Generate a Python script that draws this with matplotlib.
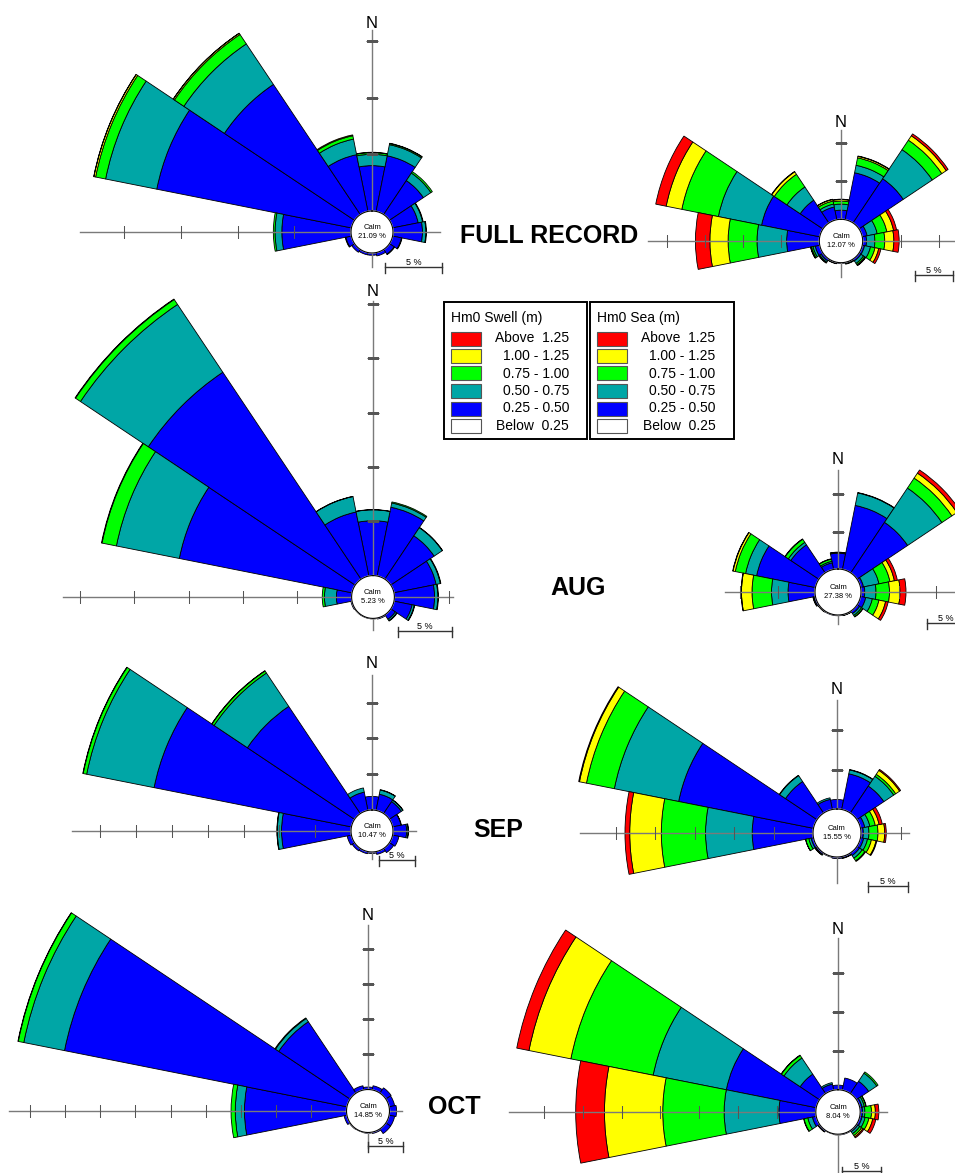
import numpy as np
import matplotlib
matplotlib.use("Agg")
import matplotlib.pyplot as plt
from matplotlib.lines import Line2D
from matplotlib.patches import Rectangle

plt.rcParams['font.family'] = ['Liberation Sans', 'DejaVu Sans']

W, H = 955, 1173

DIRECTIONS = ['N', 'NNE', 'NE', 'ENE', 'E', 'ESE', 'SE', 'SSE',
              'S', 'SSW', 'SW', 'WSW', 'W', 'WNW', 'NW', 'NNW']
CLASS_LABELS = ['Above  1.25', '1.00 - 1.25', '0.75 - 1.00',
                '0.50 - 0.75', '0.25 - 0.50', 'Below  0.25']
CLASS_COLORS = ['#FF0000', '#FFFF00', '#00FF00', '#00A6A6', '#0000FF', '#FFFFFF']
STACK_COLORS = ['#0000FF', '#00A6A6', '#00FF00', '#FFFF00', '#FF0000']

# ---------------- data (% occurrence) : N, NNE, ..., NNW ----------------
# FULL RECORD - swell
full_swell_b = [4.0, 5.0, 3.6, 2.3, 2.6, 0.8, 0.5, 0.3, 0.2, 0.2, 0.3, 0.5, 6.1, 17.5, 13.8, 5.1]
full_swell_t = [1.0, 1.0, 0.8, 0.4, 0.3, 0.05, 0.05, 0, 0, 0, 0, 0.05, 0.6, 4.6, 4.3, 1.4]
full_swell_g = [0.15, 0.1, 0.15, 0.05, 0.05, 0, 0, 0, 0, 0, 0, 0, 0.15, 0.9, 1.0, 0.3]
full_swell_y = [0.03, 0.03, 0, 0, 0, 0, 0, 0, 0, 0, 0, 0, 0, 0.15, 0.12, 0.08]
full_swell_r = [0, 0, 0, 0, 0, 0, 0, 0, 0, 0, 0, 0, 0, 0.02, 0.02, 0]
full_swell_calm = 21.09
# FULL RECORD - sea
full_sea_b = [1.2, 6.3, 7.0, 0.65, 0.5, 0.3, 0.3, 0.15, 0.1, 0.15, 0.3, 0.6, 4.3, 7.8, 3.6, 1.7]
full_sea_t = [0.8, 1.0, 4.6, 1.35, 1.1, 0.8, 0.4, 0.05, 0, 0.05, 0.2, 0.3, 3.9, 5.8, 2.1, 0.4]
full_sea_g = [0.4, 1.0, 1.5, 1.3, 1.3, 0.6, 0.2, 0.05, 0, 0, 0.1, 0.2, 3.8, 4.9, 2.0, 0.4]
full_sea_y = [0.2, 0.2, 0.7, 0.9, 1.2, 0.5, 0.1, 0, 0, 0, 0.05, 0.1, 2.4, 2.1, 0.4, 0.2]
full_sea_r = [0.05, 0.05, 0.3, 0.4, 0.7, 0.3, 0.05, 0, 0, 0, 0, 0.02, 1.9, 1.4, 0.05, 0.05]
full_sea_calm = 12.07
# AUG - swell
aug_swell_b = [5.05, 6.45, 4.8, 3.95, 3.7, 1.7, 0.5, 0.1, 0.05, 0.05, 0.05, 0.1, 1.4, 16.2, 22.9, 6.0]
aug_swell_t = [1.0, 0.4, 0.9, 0.4, 0.3, 0.2, 0.15, 0, 0, 0, 0, 0, 1.1, 5.9, 7.5, 1.45]
aug_swell_g = [0.02, 0.1, 0.03, 0.05, 0.05, 0.05, 0.05, 0, 0, 0, 0, 0, 0.2, 1.35, 0.55, 0.02]
aug_swell_y = [0, 0, 0, 0, 0, 0, 0, 0, 0, 0, 0, 0, 0, 0.05, 0.05, 0]
aug_swell_r = [0, 0, 0, 0, 0, 0, 0, 0, 0, 0, 0, 0, 0, 0, 0, 0]
aug_swell_calm = 5.23
# AUG - sea
aug_sea_b = [2.1, 8.7, 8.1, 0.4, 0.5, 0.7, 0.4, 0.1, 0.1, 0.1, 0.1, 0.2, 3.6, 8.0, 4.5, 0.9]
aug_sea_t = [0.1, 1.7, 5.5, 2.1, 1.5, 0.9, 0.3, 0.05, 0, 0, 0.05, 0.1, 2.2, 1.5, 0.4, 0.2]
aug_sea_g = [0.05, 0.05, 1.6, 1.5, 1.8, 0.9, 0.2, 0, 0, 0, 0, 0.05, 2.6, 1.4, 0.5, 0.3]
aug_sea_y = [0, 0, 0.8, 0.6, 1.4, 0.9, 0.05, 0, 0, 0, 0, 0, 1.4, 0.3, 0.05, 0.05]
aug_sea_r = [0, 0, 0.5, 0.4, 0.8, 0.35, 0, 0, 0, 0, 0, 0, 0.05, 0.05, 0, 0]
aug_sea_calm = 27.38
# SEP - swell
sep_swell_b = [1.9, 2.3, 2.0, 1.2, 1.9, 0.9, 0.7, 0.4, 0.2, 0.3, 0.4, 0.6, 9.7, 28.1, 18.0, 2.6]
sep_swell_t = [0, 0.6, 0.25, 0.05, 0.2, 0, 0, 0, 0, 0, 0, 0, 0.6, 9.6, 5.6, 0.6]
sep_swell_g = [0, 0.05, 0.05, 0, 0.05, 0, 0, 0, 0, 0, 0, 0, 0.05, 0.5, 0.35, 0]
sep_swell_y = [0, 0, 0, 0, 0, 0, 0, 0, 0, 0, 0, 0, 0, 0.05, 0.05, 0]
sep_swell_r = [0, 0, 0, 0, 0, 0, 0, 0, 0, 0, 0, 0, 0, 0, 0, 0]
sep_swell_calm = 10.47
# SEP - sea
sep_sea_b = [1.2, 4.6, 4.1, 0.55, 0.3, 0.4, 0.4, 0.2, 0.2, 0.1, 0.2, 0.3, 7.7, 17.4, 4.8, 1.3]
sep_sea_t = [0, 0.5, 1.5, 0.65, 0.7, 0.5, 0.4, 0.05, 0, 0, 0.1, 0.3, 5.9, 8.3, 0.9, 0.2]
sep_sea_g = [0, 0.05, 0.3, 0.7, 1.15, 0.5, 0.4, 0, 0, 0, 0.05, 0.4, 5.6, 3.6, 0.05, 0]
sep_sea_y = [0, 0, 0.6, 0.5, 0.85, 0.6, 0.1, 0, 0, 0, 0, 0.02, 4.0, 0.9, 0, 0]
sep_sea_r = [0, 0, 0.15, 0.4, 0.2, 0.1, 0, 0, 0, 0, 0, 0, 0.6, 0.1, 0, 0]
sep_sea_calm = 15.55
# OCT - swell
oct_swell_b = [0.35, 0.6, 0.9, 0.8, 1.0, 0.8, 0.8, 0.2, 0.1, 0.05, 0.1, 0.4, 14.5, 40.9, 12.2, 0.6]
oct_swell_t = [0, 0, 0, 0, 0, 0, 0, 0, 0, 0, 0, 0, 1.3, 5.9, 0.55, 0]
oct_swell_g = [0, 0, 0, 0, 0, 0, 0, 0, 0, 0, 0, 0, 0.6, 0.8, 0.1, 0]
oct_swell_y = [0, 0, 0, 0, 0, 0, 0, 0, 0, 0, 0, 0, 0, 0.05, 0, 0]
oct_swell_r = [0, 0, 0, 0, 0, 0, 0, 0, 0, 0, 0, 0, 0, 0, 0, 0]
oct_swell_calm = 14.85
# OCT - sea
oct_sea_b = [0.6, 1.6, 1.9, 0.3, 0.3, 0.3, 0.2, 0.1, 0.1, 0.05, 0.2, 0.5, 4.75, 11.8, 3.0, 0.8]
oct_sea_t = [0, 0, 1.25, 0.3, 0.3, 0.4, 0.3, 0, 0, 0, 0.05, 0.6, 7.05, 9.6, 2.5, 0.2]
oct_sea_g = [0, 0, 0.2, 0.2, 0.85, 0.5, 0.3, 0, 0, 0, 0, 0.5, 7.9, 10.8, 0.4, 0]
oct_sea_y = [0, 0, 0, 0.05, 0.5, 0.5, 0.2, 0, 0, 0, 0, 0.05, 7.5, 5.5, 0.05, 0]
oct_sea_r = [0, 0, 0, 0, 0.45, 0.4, 0.15, 0, 0, 0, 0, 0, 3.7, 1.6, 0, 0]
oct_sea_calm = 8.04

TITLES = ['FULL RECORD', 'AUG', 'SEP', 'OCT']

fig = plt.figure(figsize=(W / 100, H / 100), dpi=100)
fig.patch.set_facecolor('white')


def fx(x):
    return x / W


def fy(y):
    return 1 - y / H


AXC = '#7a7a7a'


def rose(cx, cy, s, rc, stacks, calm, ext, nticks, ny, bar_xy):
    """cx,cy centre px; s px per 1 %; rc calm radius px;
    ext = (left, right, up, down) axis lengths px; nticks = tick counts"""
    R = 430
    ax = fig.add_axes([fx(cx - R), fy(cy + R), 2 * R / W, 2 * R / H],
                      projection='polar')
    ax.set_theta_zero_location('N')
    ax.set_theta_direction(-1)
    ax.set_axis_off()
    ax.set_ylim(0, R / s)
    off = rc / s
    theta = np.deg2rad(np.arange(16) * 22.5)
    width = np.deg2rad(22.5)
    bottom = np.full(16, off)
    for vals, col in zip(stacks, STACK_COLORS):
        v = np.asarray(vals, dtype=float)
        m = v > 0
        ax.bar(theta[m], v[m], width=width, bottom=bottom[m], color=col,
               edgecolor='black', linewidth=0.6, zorder=2)
        bottom = bottom + v
    for th, L, n, mk in zip([np.pi * 1.5, np.pi * 0.5, 0.0, np.pi], ext, nticks,
                            ['|', '|', '_', '_']):
        ax.plot([th, th], [0, L / s], color=AXC, lw=1.0, zorder=3)
        for k in range(1, n + 1):
            ax.plot([th], [off + 5 * k], marker=mk, ms=8.5, mew=0.75,
                    color='#555555', zorder=3)
    tt = np.linspace(0, 2 * np.pi, 240)
    ax.fill(tt, np.full_like(tt, off), color='white', zorder=4)
    ax.plot(tt, np.full_like(tt, off), color='black', lw=0.8, zorder=5)
    ax.text(0, 0, 'Calm\n%.2f %%' % calm, ha='center', va='center',
            fontsize=5.5, linespacing=1.25, zorder=6)
    fig.text(fx(cx), fy(ny), 'N', ha='center', va='center', fontsize=12)
    # scale bar (5 %)
    x0, yb = bar_xy
    x1 = x0 + 5 * s
    fig.add_artist(Line2D([fx(x0), fx(x1)], [fy(yb), fy(yb)],
                          transform=fig.transFigure, color='#333333', lw=1))
    for xe in (x0, x1):
        fig.add_artist(Line2D([fx(xe), fx(xe)], [fy(yb - 4), fy(yb + 6)],
                              transform=fig.transFigure, color='#333333', lw=1))
    fig.text(fx((x0 + x1) / 2), fy(yb - 4.5), '5 %', ha='center', va='center',
             fontsize=6.5)


rose(372, 232, 11.34, 21, [full_swell_b, full_swell_t, full_swell_g, full_swell_y, full_swell_r],
     full_swell_calm, (292, 68, 202, 35), (4, 0, 3, 0), 23, (385, 267))
rose(841, 241, 7.6, 21.7, [full_sea_b, full_sea_t, full_sea_g, full_sea_y, full_sea_r],
     full_sea_calm, (193, 114, 111, 36), (4, 2, 2, 0), 122.7, (915, 275))
rose(373, 597, 10.87, 21.4, [aug_swell_b, aug_swell_t, aug_swell_g, aug_swell_y, aug_swell_r],
     aug_swell_calm, (310, 80, 296, 33), (5, 1, 5, 0), 291.7, (398, 631))
rose(838, 592, 7.5, 23, [aug_sea_b, aug_sea_t, aug_sea_g, aug_sea_y, aug_sea_r],
     aug_sea_calm, (113, 117, 122, 32), (2, 2, 2, 0), 460, (927, 623))
rose(372, 831, 7.16, 21, [sep_swell_b, sep_swell_t, sep_swell_g, sep_swell_y, sep_swell_r],
     sep_swell_calm, (300, 44, 156, 28), (7, 0, 3, 0), 663, (379, 859.5))
rose(837, 833, 7.9, 24, [sep_sea_b, sep_sea_t, sep_sea_g, sep_sea_y, sep_sea_r],
     sep_sea_calm, (257, 72, 133, 50), (5, 1, 2, 0), 690, (868, 886))
rose(368, 1111, 7.04, 21.5, [oct_swell_b, oct_swell_t, oct_swell_g, oct_swell_y, oct_swell_r],
     oct_swell_calm, (359, 34, 186, 37), (9, 0, 4, 0), 915, (368, 1146))
rose(838, 1112, 7.77, 22.2, [oct_sea_b, oct_sea_t, oct_sea_g, oct_sea_y, oct_sea_r],
     oct_sea_calm, (329, 49, 174, 61), (7, 0, 3, 0), 929, (842, 1171))

# titles
for t, (x, y) in zip(TITLES, [(549, 236), (578, 588), (498, 830), (454, 1107)]):
    fig.text(fx(x), fy(y), t, ha='center', va='center', fontsize=18,
             fontweight='bold')


# legends
def legend_box(x0, x1, title):
    y0, y1 = 302, 439
    fig.add_artist(Rectangle((fx(x0), fy(y1)), fx(x1) - fx(x0), fy(y0) - fy(y1),
                             transform=fig.transFigure, facecolor='white',
                             edgecolor='black', lw=1.4))
    fig.text(fx(x0 + 7), fy(318), title, ha='left', va='center', fontsize=10)
    for i, (lab, col) in enumerate(zip(CLASS_LABELS, CLASS_COLORS)):
        yc = 338.5 + i * 17.5
        fig.add_artist(Rectangle((fx(x0 + 7), fy(yc + 7)), 30 / W, 14 / H,
                                 transform=fig.transFigure, facecolor=col,
                                 edgecolor='#555555', lw=0.8))
        fig.text(fx(x1 - 18), fy(yc), lab, ha='right', va='center', fontsize=10)


legend_box(444, 587, 'Hm0 Swell (m)')
legend_box(589.5, 733.5, 'Hm0 Sea (m)')

fig.savefig('out.png', dpi=100, facecolor='white')
